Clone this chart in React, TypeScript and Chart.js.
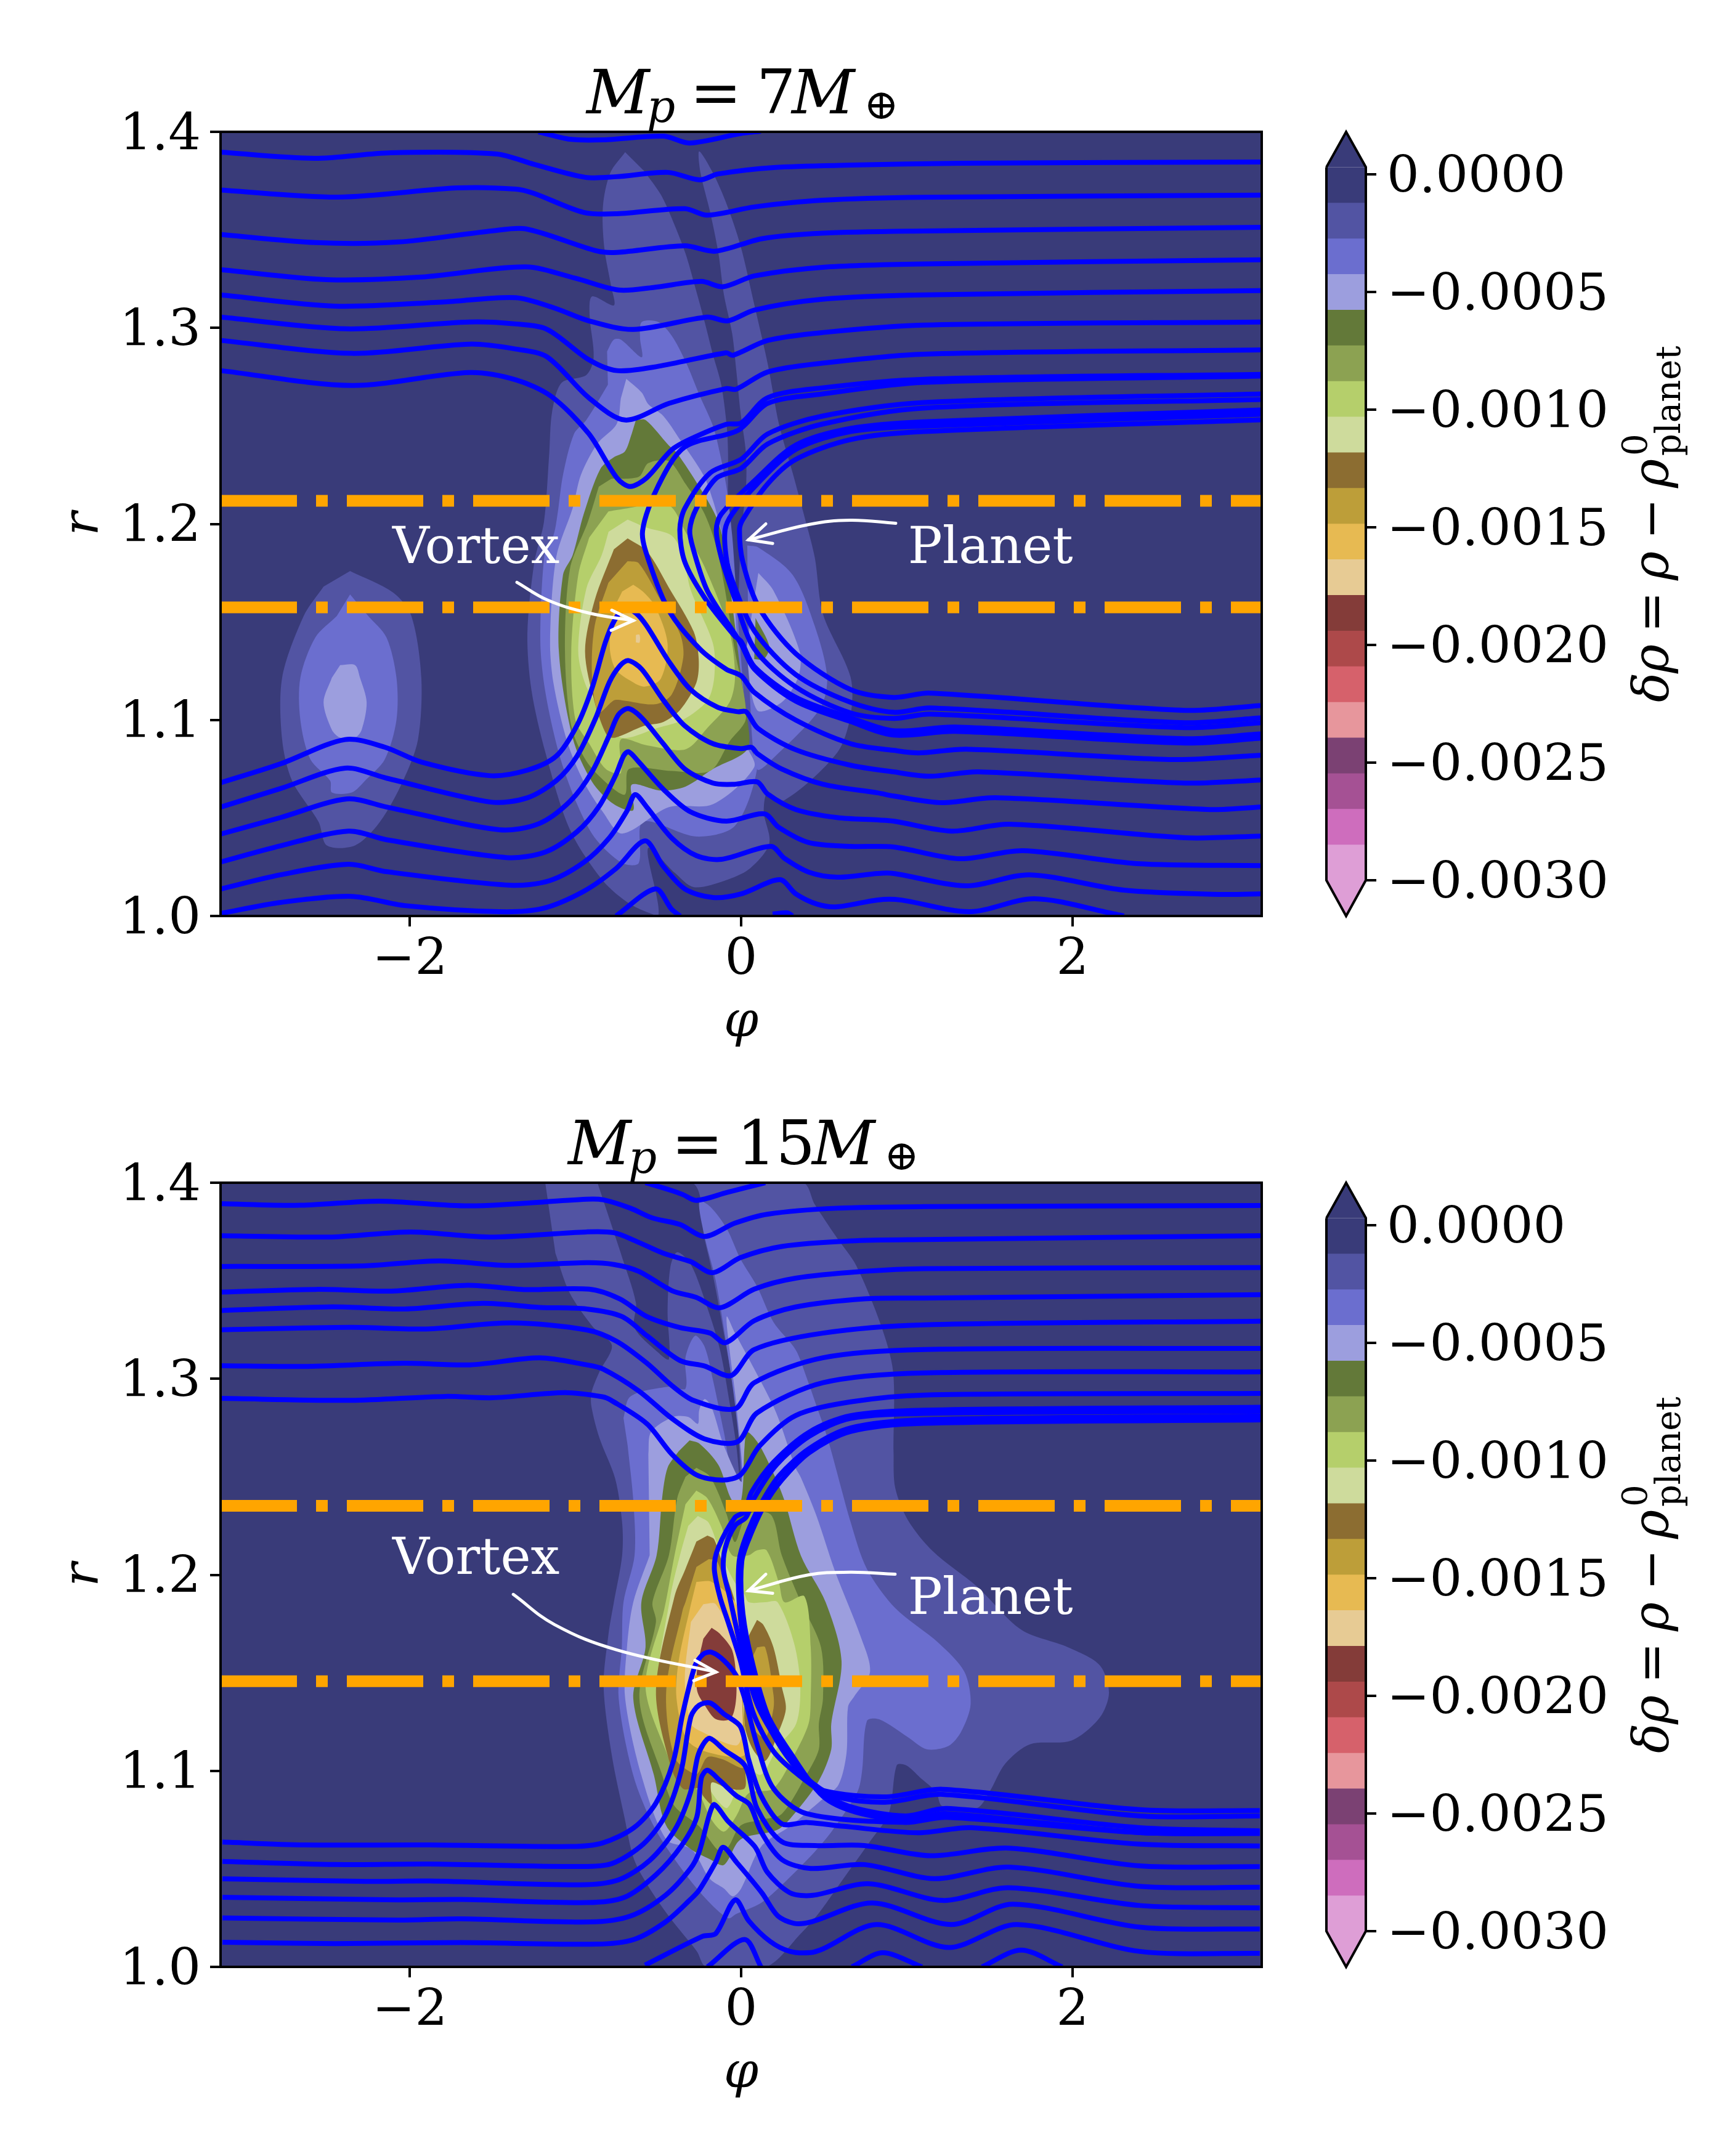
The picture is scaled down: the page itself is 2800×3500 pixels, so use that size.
import { useEffect, useRef } from 'react';
import { Chart, registerables } from 'chart.js';

Chart.register(...registerables);

type P = number[][];
const SERIF = '"DejaVu Serif"';
const TICK_SIZE = 83;

/* ---------- axes ---------- */
const phiTicks = [-2, 0, 2];
const rTicks = [1.0, 1.1, 1.2, 1.3, 1.4];
const cbarTicks = [0, -0.0005, -0.001, -0.0015, -0.002, -0.0025, -0.003];
const cbarEdges = [0.0000317, -0.0001199, -0.0002715, -0.0004231, -0.0005747, -0.0007263, -0.0008779, -0.0010295, -0.0011811, -0.0013327, -0.0014843, -0.0016359, -0.0017875, -0.0019391, -0.0020907, -0.0022423, -0.0023939, -0.0025455, -0.0026971, -0.0028487, -0.0030003];
const levelColors = ['#393b79', '#5254a3', '#6b6ecf', '#9c9ede', '#637939', '#8ca252', '#b5cf6b', '#cedb9c', '#8c6d31', '#bd9e39', '#e7ba52', '#e7cb94', '#843c39', '#ad494a', '#d6616b', '#e7969c', '#7b4173', '#a55194', '#ce6dbd', '#de9ed6'];
const domainBox: P = [[-3.1416, 1.0], [3.1416, 1.0], [3.1416, 1.4], [-3.1416, 1.4]];

/* ---------- top panel: filled contours ---------- */
const topBlobL1: P = [[-2.36, 1.176], [-2.10, 1.165], [-1.99, 1.153], [-1.93, 1.1215], [-1.95, 1.09], [-2.04, 1.069], [-2.18, 1.048], [-2.33, 1.036], [-2.5, 1.036], [-2.55, 1.048], [-2.71, 1.069], [-2.77, 1.09], [-2.77, 1.1215], [-2.64, 1.153], [-2.52, 1.168]];
const topBlobL2: P = [[-2.36, 1.164], [-2.25, 1.153], [-2.14, 1.142], [-2.08, 1.1215], [-2.08, 1.1], [-2.15, 1.08], [-2.27, 1.069], [-2.35, 1.063], [-2.47, 1.063], [-2.48, 1.069], [-2.6, 1.08], [-2.66, 1.1], [-2.66, 1.1215], [-2.57, 1.142], [-2.44, 1.153]];
const topBlobL3: P = [[-2.42, 1.128], [-2.33, 1.128], [-2.3, 1.1215], [-2.26, 1.109], [-2.29, 1.095], [-2.33, 1.091], [-2.42, 1.091], [-2.47, 1.095], [-2.52, 1.109], [-2.47, 1.1215]];
const topMainL1: P = [[-0.7, 1.3896], [-0.79, 1.379], [-0.834, 1.362], [-0.826, 1.341], [-0.784, 1.321], [-0.768, 1.3115], [-0.9, 1.316], [-0.914, 1.306], [-0.89, 1.285], [-0.934, 1.276], [-1.083, 1.272], [-1.141, 1.257], [-1.158, 1.236], [-1.19, 1.201], [-1.249, 1.18], [-1.29, 1.144], [-1.265, 1.115], [-1.18, 1.083], [-1.033, 1.044], [-0.834, 1.018], [-0.668, 1.006], [-0.5, 1.0], [-0.562, 1.0346], [-0.4, 1.022], [-0.285, 1.0147], [-0.1, 1.018], [0.05, 1.024], [0.17, 1.037], [0.137, 1.053], [0.16, 1.063], [0.26, 1.059], [0.577, 1.083], [0.66, 1.102], [0.66, 1.122], [0.494, 1.154], [0.444, 1.183], [0.378, 1.205], [0.311, 1.226], [0.228, 1.251], [0.162, 1.281], [0.079, 1.312], [-0.004, 1.342], [-0.087, 1.363], [-0.17, 1.379], [-0.253, 1.39], [-0.245, 1.379], [-0.187, 1.359], [-0.137, 1.338], [-0.104, 1.317], [-0.054, 1.297], [-0.029, 1.278], [-0.004, 1.257], [0.029, 1.236], [0.029, 1.218], [0, 1.195], [-0.02, 1.15], [-0.02, 1.12], [-0.06, 1.15], [-0.08, 1.19], [-0.079, 1.236], [-0.087, 1.25], [-0.12, 1.271], [-0.17, 1.2863], [-0.22, 1.303], [-0.278, 1.321], [-0.336, 1.338], [-0.419, 1.356], [-0.485, 1.368], [-0.585, 1.38]];
const topMainL2: P = [[-0.809, 1.288], [-0.768, 1.294], [-0.726, 1.294], [-0.6, 1.285], [-0.61, 1.295], [-0.6, 1.303], [-0.5, 1.303], [-0.419, 1.296], [-0.336, 1.283], [-0.253, 1.266], [-0.17, 1.25], [-0.128, 1.236], [-0.087, 1.218], [-0.054, 1.194], [-0.037, 1.174], [-0.004, 1.135], [0.046, 1.089], [0.096, 1.075], [-0.037, 1.046], [-0.27, 1.0405], [-0.593, 1.048], [-0.618, 1.027], [-0.718, 1.027], [-0.884, 1.04], [-1.0, 1.059], [-1.1, 1.083], [-1.183, 1.115], [-1.212, 1.141], [-1.183, 1.187], [-1.133, 1.194], [-1.108, 1.205], [-1.075, 1.225], [-1.008, 1.246], [-0.934, 1.253], [-0.804, 1.271]];
const topRightL2: P = [[0.037, 1.189], [0.104, 1.188], [0.311, 1.174], [0.444, 1.148], [0.519, 1.122], [0.477, 1.106], [0.212, 1.082], [0.096, 1.075], [0.046, 1.122]];
const topMainL3: P = [[-0.693, 1.274], [-0.6, 1.267], [-0.56, 1.261], [-0.469, 1.255], [-0.369, 1.243], [-0.228, 1.225], [-0.17, 1.212], [-0.112, 1.194], [-0.054, 1.174], [-0.02, 1.135], [0.029, 1.088], [0.079, 1.076], [-0.17, 1.057], [-0.436, 1.0555], [-0.718, 1.042], [-0.834, 1.053], [-0.95, 1.0685], [-1.05, 1.089], [-1.133, 1.119], [-1.153, 1.141], [-1.116, 1.183], [-1.017, 1.208], [-0.967, 1.225], [-0.867, 1.241], [-0.751, 1.251], [-0.726, 1.264]];
const topRightL3: P = [[0.104, 1.175], [0.195, 1.166], [0.353, 1.135], [0.345, 1.122], [0.245, 1.109], [0.096, 1.105], [0.029, 1.135]];
const topMainL4: P = [[-0.635, 1.253], [-0.577, 1.253], [-0.436, 1.24], [-0.386, 1.236], [-0.253, 1.219], [-0.153, 1.204], [-0.104, 1.19], [-0.037, 1.148], [0, 1.122], [0.037, 1.101], [0.037, 1.085], [-0.17, 1.075], [-0.336, 1.066], [-0.485, 1.064], [-0.66, 1.067], [-0.651, 1.054], [-0.768, 1.057], [-0.9, 1.0685], [-1.017, 1.091], [-1.1, 1.135], [-1.075, 1.174], [-1.017, 1.184], [-0.95, 1.205], [-0.85, 1.228], [-0.768, 1.234], [-0.701, 1.237], [-0.66, 1.246]];
const topPatchL4: P = [[0.087, 1.152], [0.17, 1.1375], [0.137, 1.131], [0.079, 1.131]];
const topMainL5: P = [[-0.784, 1.223], [-0.618, 1.224], [-0.56, 1.231], [-0.436, 1.232], [-0.336, 1.2205], [-0.22, 1.205], [-0.137, 1.184], [-0.037, 1.135], [0.029, 1.101], [-0.07, 1.089], [-0.187, 1.074], [-0.419, 1.074], [-0.676, 1.075], [-0.701, 1.062], [-0.801, 1.067], [-0.934, 1.079], [-1.025, 1.097], [-1.063, 1.135], [-1.033, 1.177], [-0.925, 1.201], [-0.859, 1.219]];
const topMainL6: P = [[-0.801, 1.2064], [-0.651, 1.2085], [-0.519, 1.211], [-0.419, 1.2085], [-0.336, 1.196], [-0.22, 1.178], [-0.07, 1.145], [-0.037, 1.122], [-0.07, 1.109], [-0.203, 1.096], [-0.336, 1.085], [-0.568, 1.087], [-0.726, 1.09], [-0.726, 1.073], [-0.817, 1.075], [-0.917, 1.088], [-1.0, 1.1], [-1.025, 1.135], [-0.983, 1.174], [-0.917, 1.193]];
const topMainL7: P = [[-0.685, 1.2022], [-0.568, 1.198], [-0.419, 1.194], [-0.353, 1.184], [-0.303, 1.166], [-0.17, 1.139], [-0.162, 1.122], [-0.203, 1.11], [-0.353, 1.1], [-0.502, 1.096], [-0.726, 1.091], [-0.834, 1.104], [-0.934, 1.117], [-0.983, 1.135], [-0.934, 1.167], [-0.842, 1.184], [-0.8, 1.196]];
const topMainL8: P = [[-0.685, 1.1926], [-0.568, 1.186], [-0.436, 1.1675], [-0.286, 1.145], [-0.256, 1.131], [-0.27, 1.119], [-0.369, 1.105], [-0.469, 1.099], [-0.585, 1.097], [-0.759, 1.091], [-0.809, 1.092], [-0.884, 1.109], [-0.942, 1.135], [-0.884, 1.161], [-0.768, 1.187]];
const topMainL9: P = [[-0.685, 1.181], [-0.618, 1.18], [-0.485, 1.161], [-0.369, 1.144], [-0.349, 1.132], [-0.419, 1.113], [-0.519, 1.108], [-0.718, 1.11], [-0.768, 1.11], [-0.859, 1.104], [-0.9, 1.122], [-0.884, 1.148], [-0.801, 1.17]];
const topMainL10: P = [[-0.651, 1.169], [-0.593, 1.1655], [-0.519, 1.158], [-0.444, 1.139], [-0.485, 1.121], [-0.585, 1.117], [-0.668, 1.12], [-0.759, 1.126], [-0.793, 1.1375], [-0.768, 1.156], [-0.718, 1.1655]];
const topMainL11: P = [[-0.635, 1.1434], [-0.613, 1.1434], [-0.613, 1.1395], [-0.635, 1.1395]];

/* ---------- top panel: streamlines ---------- */
const topS0: P = [[-1.223, 1.4], [-1.033, 1.3962], [-0.833, 1.3959], [-0.468, 1.3978], [-0.312, 1.3943], [-0.004, 1.3991], [0.119, 1.4003]];
const topS1: P = [[-3.141, 1.3896], [-2.576, 1.3865], [-2.115, 1.3893], [-1.476, 1.3887], [-1.249, 1.3834], [-0.941, 1.3768], [-0.755, 1.3771], [-0.442, 1.3793], [-0.249, 1.3755], [-0.14, 1.3785], [0.197, 1.3818], [0.658, 1.383], [1.327, 1.384], [3.141, 1.3846]];
const topS2: P = [[-3.14, 1.3703], [-2.43, 1.3667], [-1.71, 1.3714], [-1.36, 1.3708], [-1.25, 1.3686], [-0.95, 1.3589], [-0.75, 1.3582], [-0.34, 1.3608], [-0.205, 1.3575], [0.08, 1.3617], [0.49, 1.3651], [1.1, 1.3666], [3.14, 1.3677]];
const topS3: P = [[-3.14, 1.3476], [-2.57, 1.3435], [-2.07, 1.3438], [-1.5, 1.3495], [-1.3, 1.3505], [-0.87, 1.3392], [-0.75, 1.3385], [-0.34, 1.3419], [-0.156, 1.3391], [0.126, 1.3455], [0.49, 1.3483], [1.1, 1.3494], [3.14, 1.3513]];
const topS4: P = [[-3.14, 1.3297], [-2.5, 1.3246], [-1.93, 1.3259], [-1.3, 1.3311], [-1.0, 1.3253], [-0.74, 1.3193], [-0.53, 1.3206], [-0.24, 1.3237], [-0.11, 1.321], [0.08, 1.3265], [0.49, 1.3309], [1.1, 1.3326], [3.14, 1.3347]];
const topS5: P = [[-3.14, 1.3168], [-2.45, 1.3111], [-1.78, 1.3133], [-1.36, 1.3154], [-1.13, 1.3102], [-0.92, 1.3036], [-0.65, 1.2992], [-0.205, 1.3055], [-0.08, 1.3036], [0.08, 1.3091], [0.49, 1.3146], [1.1, 1.3168], [3.14, 1.319]];
const topS6: P = [[-3.14, 1.3055], [-2.38, 1.2995], [-1.64, 1.303], [-1.36, 1.302], [-1.17, 1.2992], [-0.92, 1.2838], [-0.75, 1.2782], [-0.5, 1.2804], [-0.09, 1.2873], [-0.05, 1.286], [0.16, 1.2936], [0.49, 1.2976], [1.1, 1.3014], [3.14, 1.303]];
const topS7: P = [[-3.14, 1.2936], [-2.35, 1.287], [-1.64, 1.2917], [-1.36, 1.2892], [-1.17, 1.2851], [-0.92, 1.2644], [-0.7, 1.253], [-0.435, 1.2615], [-0.09, 1.269], [-0.03, 1.2687], [0.16, 1.2775], [0.49, 1.282], [1.1, 1.2866], [3.14, 1.2888]];
const topS8: P = [[-3.14, 1.2782], [-2.35, 1.2706], [-1.64, 1.2772], [-1.36, 1.2735], [-1.145, 1.265], [-0.92, 1.2461], [-0.75, 1.2235], [-0.67, 1.2191], [-0.57, 1.2235], [-0.42, 1.2377], [-0.305, 1.2433], [-0.09, 1.2508], [0, 1.2515], [0.16, 1.2644], [0.49, 1.2694], [1.1, 1.2738], [3.14, 1.2763]];
const topF: P = [[-3.14, 1.068], [-2.78, 1.0776], [-2.39, 1.09], [-2.15, 1.0861], [-1.93, 1.0785], [-1.52, 1.0716], [-1.29, 1.0744], [-1.115, 1.0816], [-0.99, 1.0973], [-0.9, 1.1162], [-0.82, 1.1394], [-0.765, 1.1507], [-0.7, 1.157], [-0.635, 1.1545], [-0.57, 1.148], [-0.435, 1.1297], [-0.305, 1.1155], [-0.14, 1.1064], [-0.02, 1.1042], [0.03, 1.1042], [0.1, 1.0958], [0.33, 1.0848], [0.66, 1.0769], [0.92, 1.0735], [1.14, 1.0713], [1.43, 1.0735], [2.68, 1.0678], [3.14, 1.0694]];
const topG: P = [[-3.14, 1.0556], [-2.78, 1.065], [-2.39, 1.0754], [-2.14, 1.0703], [-1.51, 1.0581], [-1.29, 1.0603], [-1.115, 1.0691], [-0.99, 1.0816], [-0.88, 1.1005], [-0.795, 1.1193], [-0.73, 1.1278], [-0.68, 1.1303], [-0.6, 1.1259], [-0.47, 1.1102], [-0.34, 1.097], [-0.17, 1.0879], [0, 1.0854], [0.063, 1.086], [0.097, 1.0829], [0.245, 1.075], [0.494, 1.0672], [0.825, 1.0628], [0.92, 1.0612], [1.21, 1.0578], [1.535, 1.0603], [2.83, 1.0543], [3.14, 1.0556]];
const topH: P = [[-3.14, 1.0418], [-2.78, 1.0502], [-2.38, 1.0597], [-2.14, 1.0556], [-1.46, 1.044], [-1.22, 1.0471], [-1.03, 1.0587], [-0.9, 1.0735], [-0.795, 1.0923], [-0.74, 1.1027], [-0.68, 1.1058], [-0.6, 1.1011], [-0.47, 1.0879], [-0.34, 1.075], [-0.17, 1.0678], [-0.04, 1.0672], [0.097, 1.0684], [0.16, 1.0622], [0.33, 1.0543], [0.58, 1.0502], [0.825, 1.049], [0.92, 1.0484], [1.27, 1.0433], [1.62, 1.0468], [2.68, 1.0399], [3.14, 1.0408]];
const topI: P = [[-3.14, 1.0276], [-2.78, 1.0358], [-2.37, 1.0433], [-2.14, 1.0389], [-1.416, 1.0298], [-1.18, 1.0327], [-0.99, 1.043], [-0.86, 1.0556], [-0.755, 1.0722], [-0.71, 1.0816], [-0.68, 1.0838], [-0.62, 1.0788], [-0.47, 1.0647], [-0.305, 1.0531], [-0.09, 1.0484], [0.14, 1.0521], [0.227, 1.0452], [0.41, 1.0374], [0.66, 1.0355], [0.92, 1.0352], [1.32, 1.0292], [1.7, 1.0333], [2.39, 1.0267], [3.14, 1.0257]];
const topJ: P = [[-3.14, 1.0138], [-2.78, 1.021], [-2.37, 1.0264], [-2.14, 1.0226], [-1.395, 1.0157], [-1.16, 1.0179], [-0.95, 1.0273], [-0.795, 1.0399], [-0.69, 1.0534], [-0.64, 1.0619], [-0.57, 1.0556], [-0.42, 1.0399], [-0.27, 1.0308], [-0.12, 1.0289], [0.18, 1.0355], [0.26, 1.0295], [0.41, 1.0223], [0.58, 1.0198], [0.825, 1.0217], [0.92, 1.0217], [1.36, 1.0154], [1.74, 1.021], [2.31, 1.0132], [2.9, 1.011], [3.14, 1.0113]];
const topK: P = [[-3.14, 1.0013], [-2.78, 1.0069], [-2.35, 1.01], [-2.03, 1.0053], [-1.457, 1.0022], [-1.2, 1.0038], [-0.95, 1.0126], [-0.755, 1.0242], [-0.58, 1.0383], [-0.47, 1.0254], [-0.34, 1.0138], [-0.17, 1.0094], [0, 1.0113], [0.234, 1.0185], [0.33, 1.0113], [0.46, 1.006], [0.58, 1.0047], [0.825, 1.0082], [0.96, 1.0082], [1.38, 1.0022], [1.77, 1.0088], [2.24, 1.0013], [2.31, 1.0]];
const topV7: P = [[-0.755, 1.0], [-0.517, 1.0138], [-0.42, 1.0035], [-0.368, 1.0]];
const topV8: P = [[0.19, 1.001], [0.28, 1.0016], [0.31, 1.0]];
const topE: P = [[3.14, 1.2754], [1.1, 1.2722], [0.49, 1.2663], [0.16, 1.2615], [-0.02, 1.2477], [-0.34, 1.2393], [-0.5, 1.2195], [-0.595, 1.1963], [-0.555, 1.1806], [-0.435, 1.1557], [-0.25, 1.1363], [-0.09, 1.1259], [0, 1.1225], [0.08, 1.114], [0.33, 1.0999], [0.66, 1.0879], [0.92, 1.0845], [1.07, 1.0832], [1.36, 1.0851], [2.61, 1.0798], [3.14, 1.082]];
const topD1: P = [[3.14, 1.2663], [1.1, 1.2619], [0.49, 1.255], [0.16, 1.2459], [0, 1.233], [-0.186, 1.2261], [-0.34, 1.2079], [-0.37, 1.1969], [-0.34, 1.1806], [-0.22, 1.1623], [-0.04, 1.1429], [0, 1.1401], [0.08, 1.1272], [0.33, 1.1115], [0.66, 1.1011], [0.92, 1.0945], [1.29, 1.0964], [2.68, 1.0904], [3.14, 1.0929]];
const topD2: P = [[3.14, 1.2635], [1.1, 1.2591], [0.49, 1.2509], [0.16, 1.2408], [0, 1.2283], [-0.15, 1.2233], [-0.27, 1.2079], [-0.31, 1.1969], [-0.29, 1.1875], [-0.205, 1.1661], [-0.04, 1.1441], [0, 1.1388], [0.08, 1.1259], [0.33, 1.1096], [0.66, 1.0992], [0.92, 1.0923], [1.29, 1.0942], [2.68, 1.0882], [3.14, 1.0907]];
const topP1: P = [[3.14, 1.2581], [1.1, 1.2521], [0.66, 1.2487], [0.33, 1.2402], [0.08, 1.222], [-0.12, 1.205], [-0.15, 1.1969], [-0.12, 1.183], [-0.04, 1.1623], [0.08, 1.1363], [0.33, 1.1168], [0.66, 1.1036], [0.92, 1.1008], [1.14, 1.103], [2.68, 1.0961], [3.14, 1.0986]];
const topP2: P = [[3.14, 1.2559], [1.1, 1.2499], [0.66, 1.2471], [0.33, 1.238], [0.097, 1.2204], [-0.055, 1.205], [-0.097, 1.1969], [-0.09, 1.183], [-0.055, 1.1714], [0.08, 1.1454], [0.33, 1.1231], [0.66, 1.109], [0.92, 1.1039], [1.14, 1.1061], [2.68, 1.0986], [3.14, 1.1011]];
const topP3: P = [[3.14, 1.2531], [1.1, 1.2471], [0.66, 1.243], [0.33, 1.2329], [0.16, 1.2204], [0.01, 1.2022], [-0.01, 1.1969], [0.01, 1.1806], [0.11, 1.157], [0.33, 1.1338], [0.66, 1.1155], [0.92, 1.1115], [1.14, 1.1137], [2.68, 1.1049], [3.14, 1.1074]];

/* ---------- bottom panel: filled contours ---------- */
const botBigL1: P = [[-1.182, 1.4], [0.37, 1.4], [0.444, 1.389], [0.577, 1.372], [0.693, 1.358], [0.843, 1.3275], [0.917, 1.3037], [0.92, 1.262], [0.93, 1.2443], [1.006, 1.228], [1.157, 1.212], [1.423, 1.194], [1.69, 1.172], [1.973, 1.163], [2.163, 1.154], [2.22, 1.14], [2.163, 1.127], [1.992, 1.1154], [1.745, 1.1136], [1.594, 1.1037], [1.499, 1.0893], [1.423, 1.081], [1.214, 1.082], [1.176, 1.0893], [1.081, 1.0965], [0.996, 1.1028], [0.939, 1.1028], [0.892, 1.0785], [0.778, 1.064], [0.626, 1.046], [0.474, 1.028], [0.36, 1.017], [0.15, 1.0], [-0.21, 1.0], [-0.268, 1.008], [-0.42, 1.024], [-0.552, 1.04], [-0.647, 1.055], [-0.704, 1.0763], [-0.78, 1.1077], [-0.83, 1.143], [-0.8, 1.17], [-0.768, 1.186], [-0.718, 1.21], [-0.718, 1.2265], [-0.76, 1.249], [-0.856, 1.27], [-0.903, 1.2856], [-0.903, 1.293], [-0.856, 1.3034], [-0.78, 1.317], [-0.894, 1.3264], [-1.036, 1.344], [-1.121, 1.3641]];
const botSlitDark: P = [[-0.867, 1.4], [-0.295, 1.4], [-0.22, 1.371], [-0.17, 1.3527], [-0.087, 1.315], [-0.037, 1.2896], [-0.012, 1.2658], [-0.004, 1.245], [-0.029, 1.2658], [-0.07, 1.288], [-0.128, 1.315], [-0.203, 1.336], [-0.303, 1.3583], [-0.386, 1.3646], [-0.427, 1.357], [-0.444, 1.3345], [-0.436, 1.31], [-0.502, 1.3135], [-0.643, 1.326], [-0.635, 1.3387], [-0.726, 1.364]];
const botL2: P = [[-0.71, 1.28], [-0.668, 1.291], [-0.436, 1.296], [-0.336, 1.295], [-0.336, 1.3107], [-0.278, 1.3219], [-0.22, 1.3163], [-0.17, 1.2994], [-0.104, 1.2728], [-0.054, 1.2518], [0.004, 1.2476], [-0.037, 1.2868], [-0.087, 1.3163], [-0.153, 1.35], [-0.22, 1.3724], [-0.253, 1.3906], [-0.187, 1.3878], [-0.087, 1.3766], [-0.004, 1.3611], [0.096, 1.3471], [0.195, 1.3289], [0.328, 1.3149], [0.394, 1.3009], [0.46, 1.285], [0.522, 1.2696], [0.664, 1.226], [0.759, 1.203], [0.93, 1.183], [1.195, 1.165], [1.347, 1.1506], [1.385, 1.134], [1.328, 1.12], [1.252, 1.1127], [1.12, 1.111], [1.006, 1.1172], [0.835, 1.1262], [0.759, 1.1254], [0.73, 1.1], [0.702, 1.0893], [0.55, 1.0695], [0.444, 1.0587], [0.245, 1.0417], [0.12, 1.0326], [-0.029, 1.027], [-0.079, 1.0248], [-0.216, 1.035], [-0.377, 1.052], [-0.527, 1.0717], [-0.651, 1.0977], [-0.739, 1.137], [-0.72, 1.163], [-0.71, 1.186], [-0.643, 1.21], [-0.65, 1.237], [-0.685, 1.266]];
const botL3: P = [[-0.56, 1.2616], [-0.544, 1.2728], [-0.411, 1.2805], [-0.319, 1.2805], [-0.261, 1.277], [-0.253, 1.284], [-0.22, 1.2896], [-0.178, 1.2854], [-0.104, 1.2658], [0.004, 1.2476], [-0.029, 1.2868], [-0.07, 1.3149], [-0.087, 1.3317], [-0.037, 1.3233], [0.079, 1.305], [0.212, 1.2826], [0.328, 1.2546], [0.36, 1.2497], [0.455, 1.23], [0.57, 1.201], [0.721, 1.1686], [0.778, 1.1506], [0.683, 1.138], [0.645, 1.1326], [0.636, 1.109], [0.588, 1.0929], [0.493, 1.0857], [0.3, 1.072], [0.12, 1.0613], [0, 1.04], [-0.05, 1.036], [-0.104, 1.04], [-0.19, 1.045], [-0.3, 1.06], [-0.452, 1.065], [-0.602, 1.0977], [-0.7, 1.137], [-0.689, 1.163], [-0.651, 1.186], [-0.552, 1.21]];
const botL4: P = [[-0.311, 1.2686], [-0.253, 1.267], [-0.137, 1.256], [-0.054, 1.2378], [0, 1.2378], [0.021, 1.2658], [0.037, 1.2728], [0.104, 1.267], [0.195, 1.2518], [0.262, 1.2378], [0.361, 1.2097], [0.51, 1.186], [0.606, 1.156], [0.544, 1.124], [0.544, 1.111], [0.469, 1.095], [0.32, 1.078], [0.22, 1.07], [-0.004, 1.065], [-0.104, 1.052], [-0.19, 1.055], [-0.303, 1.06], [-0.452, 1.072], [-0.527, 1.098], [-0.651, 1.137], [-0.577, 1.163], [-0.602, 1.186], [-0.51, 1.21], [-0.477, 1.239], [-0.444, 1.2546], [-0.377, 1.263]];
const botL5: P = [[-0.27, 1.2546], [-0.187, 1.25], [-0.087, 1.2307], [-0.037, 1.2167], [0.037, 1.2307], [0.179, 1.2307], [0.245, 1.21], [0.361, 1.186], [0.482, 1.163], [0.494, 1.137], [0.469, 1.124], [0.469, 1.111], [0.394, 1.098], [0.245, 1.078], [0.12, 1.075], [-0.004, 1.072], [-0.079, 1.061], [-0.129, 1.0587], [-0.253, 1.0717], [-0.402, 1.082], [-0.477, 1.098], [-0.614, 1.137], [-0.514, 1.176], [-0.535, 1.186], [-0.436, 1.21], [-0.386, 1.239], [-0.336, 1.25]];
const botL6: P = [[-0.27, 1.243], [-0.203, 1.239], [-0.12, 1.225], [-0.054, 1.21], [0.046, 1.21], [0.096, 1.2125], [0.154, 1.2125], [0.228, 1.196], [0.262, 1.186], [0.382, 1.189], [0.42, 1.163], [0.42, 1.137], [0.407, 1.124], [0.32, 1.108], [0.195, 1.091], [0.046, 1.0886], [-0.029, 1.077], [-0.104, 1.069], [-0.178, 1.075], [-0.278, 1.092], [-0.39, 1.098], [-0.44, 1.107], [-0.577, 1.143], [-0.465, 1.182], [-0.402, 1.21], [-0.336, 1.236]];
const botL7: P = [[-0.261, 1.23], [-0.195, 1.2265], [-0.12, 1.21], [-0.037, 1.196], [0.02, 1.19], [0.046, 1.186], [0.145, 1.186], [0.22, 1.186], [0.32, 1.165], [0.357, 1.143], [0.332, 1.124], [0.22, 1.112], [0.12, 1.098], [0.02, 1.102], [-0.054, 1.085], [-0.091, 1.081], [-0.178, 1.089], [-0.216, 1.099], [-0.352, 1.1], [-0.377, 1.108], [-0.502, 1.141], [-0.427, 1.189], [-0.369, 1.21], [-0.319, 1.225]];
const botLeftL8: P = [[-0.203, 1.22], [-0.162, 1.218], [-0.104, 1.203], [-0.037, 1.186], [-0.004, 1.163], [0.01, 1.137], [0.026, 1.099], [0.02, 1.091], [-0.079, 1.091], [-0.178, 1.094], [-0.178, 1.083], [-0.228, 1.087], [-0.253, 1.091], [-0.352, 1.091], [-0.427, 1.103], [-0.514, 1.141], [-0.402, 1.189], [-0.336, 1.203], [-0.27, 1.217]];
const botRightL8: P = [[0.096, 1.177], [0.133, 1.1746], [0.195, 1.163], [0.245, 1.143], [0.27, 1.1316], [0.22, 1.1186], [0.145, 1.105], [0.071, 1.111], [0.021, 1.124], [0.033, 1.16], [0.046, 1.169]];
const botLeftL9: P = [[-0.195, 1.208], [-0.145, 1.207], [-0.07, 1.186], [-0.004, 1.163], [0.01, 1.137], [0.021, 1.102], [-0.116, 1.106], [-0.203, 1.107], [-0.253, 1.0997], [-0.278, 1.098], [-0.402, 1.107], [-0.452, 1.141], [-0.353, 1.182], [-0.336, 1.186], [-0.27, 1.204]];
const botRightL9: P = [[0.096, 1.163], [0.145, 1.163], [0.195, 1.139], [0.195, 1.1316], [0.145, 1.117], [0.058, 1.124], [0.058, 1.156]];
const botL10: P = [[-0.27, 1.1964], [-0.178, 1.1964], [-0.029, 1.185], [-0.004, 1.163], [0.01, 1.124], [0.021, 1.108], [-0.203, 1.1095], [-0.328, 1.116], [-0.39, 1.137], [-0.377, 1.156], [-0.303, 1.185]];
const botL11: P = [[-0.228, 1.185], [-0.153, 1.185], [-0.029, 1.163], [0.01, 1.121], [-0.029, 1.113], [-0.24, 1.12], [-0.303, 1.124], [-0.34, 1.147], [-0.303, 1.176]];
const botL12: P = [[-0.178, 1.173], [-0.129, 1.17], [-0.054, 1.1615], [-0.029, 1.146], [-0.034, 1.134], [-0.066, 1.1264], [-0.153, 1.1264], [-0.216, 1.133], [-0.265, 1.1407], [-0.265, 1.1524], [-0.228, 1.1674]];

/* ---------- bottom panel: streamlines ---------- */
const botS0: P = [[-0.577, 1.4], [-0.419, 1.396], [-0.353, 1.394], [-0.27, 1.391], [-0.087, 1.395], [0.145, 1.4]];
const botS1: P = [[-3.14, 1.3893], [-2.658, 1.3885], [-2.184, 1.3906], [-1.634, 1.3882], [-0.932, 1.3916], [-0.834, 1.3913], [-0.668, 1.387], [-0.535, 1.382], [-0.369, 1.3787], [-0.22, 1.3726], [-0.037, 1.3794], [0.162, 1.384], [0.577, 1.387], [1.105, 1.3878], [3.14, 1.3884]];
const botS2: P = [[-3.14, 1.373], [-2.468, 1.3723], [-1.994, 1.3749], [-1.52, 1.3723], [-0.932, 1.3749], [-0.768, 1.3745], [-0.635, 1.3702], [-0.469, 1.364], [-0.303, 1.3597], [-0.173, 1.3541], [-0.004, 1.3618], [0.245, 1.3675], [0.66, 1.3703], [1.105, 1.371], [3.14, 1.373]];
const botS3: P = [[-3.14, 1.3573], [-2.278, 1.3576], [-1.823, 1.3601], [-1.406, 1.3578], [-0.932, 1.3592], [-0.768, 1.3583], [-0.618, 1.3548], [-0.419, 1.345], [-0.27, 1.3415], [-0.129, 1.3362], [0.079, 1.3457], [0.328, 1.3513], [0.743, 1.3548], [1.105, 1.3562], [3.14, 1.3567]];
const botS4: P = [[-3.14, 1.3442], [-2.563, 1.3456], [-2.108, 1.3447], [-1.652, 1.3477], [-1.31, 1.3455], [-0.917, 1.3457], [-0.734, 1.3408], [-0.568, 1.3317], [-0.369, 1.3261], [-0.187, 1.3233], [-0.095, 1.3184], [0.079, 1.3296], [0.328, 1.3366], [0.743, 1.3408], [1.105, 1.3412], [3.14, 1.3429]];
const botS5: P = [[-3.14, 1.3348], [-2.468, 1.3367], [-2.032, 1.3356], [-1.558, 1.3385], [-1.216, 1.3364], [-0.932, 1.3356], [-0.718, 1.3317], [-0.568, 1.3219], [-0.369, 1.3093], [-0.22, 1.3065], [-0.062, 1.3016], [0.079, 1.3149], [0.494, 1.3233], [1.105, 1.3275], [3.14, 1.3294]];
const botS6: P = [[-3.14, 1.325], [-2.354, 1.3262], [-1.899, 1.3254], [-1.387, 1.3285], [-0.932, 1.3249], [-0.751, 1.3191], [-0.568, 1.3079], [-0.419, 1.2966], [-0.286, 1.2889], [-0.037, 1.2847], [0.079, 1.298], [0.494, 1.3107], [1.105, 1.3149], [3.14, 1.3155]];
const botS7: P = [[-3.14, 1.3067], [-2.639, 1.3063], [-2.032, 1.3079], [-1.634, 1.3071], [-1.216, 1.3107], [-0.932, 1.3071], [-0.834, 1.305], [-0.618, 1.2938], [-0.419, 1.2798], [-0.22, 1.2693], [-0.021, 1.2679], [0.096, 1.2826], [0.494, 1.298], [1.105, 1.303], [3.14, 1.3035]];
const botS8: P = [[-3.14, 1.29], [-2.354, 1.289], [-1.785, 1.291], [-1.5, 1.2903], [-1.064, 1.2929], [-0.837, 1.2908], [-0.784, 1.289], [-0.568, 1.277], [-0.419, 1.2616], [-0.27, 1.251], [-0.112, 1.2483], [-0.004, 1.251], [0.112, 1.2658], [0.328, 1.2812], [0.66, 1.2882], [1.105, 1.2917], [3.14, 1.2925]];
const botT1: P = [[3.14, 1.2855], [1.105, 1.284], [0.66, 1.2812], [0.411, 1.2728], [0.195, 1.2574], [0.062, 1.242], [0.021, 1.2322], [-0.037, 1.2293], [-0.137, 1.214], [-0.162, 1.2034], [-0.129, 1.189], [-0.079, 1.176], [-0.004, 1.156], [0.071, 1.13], [0.195, 1.11], [0.345, 1.098], [0.494, 1.09], [0.868, 1.0867], [1.216, 1.0906], [2.406, 1.0802], [3.13, 1.0797]];
const botT2: P = [[3.14, 1.2835], [1.105, 1.2823], [0.66, 1.2798], [0.411, 1.2707], [0.212, 1.256], [0.079, 1.2392], [0.029, 1.2293], [-0.037, 1.2251], [-0.095, 1.214], [-0.107, 1.2027], [-0.07, 1.189], [-0.004, 1.164], [0.096, 1.134], [0.245, 1.112], [0.394, 1.0964], [0.569, 1.087], [0.868, 1.084], [1.216, 1.088], [2.406, 1.077], [3.13, 1.077]];
const botT3: P = [[3.14, 1.281], [1.105, 1.2791], [0.66, 1.2749], [0.411, 1.2644], [0.228, 1.2504], [0.112, 1.235], [0.029, 1.2195], [-0.012, 1.2069], [-0.012, 1.186], [0.021, 1.163], [0.12, 1.1316], [0.27, 1.1082], [0.469, 1.09], [0.668, 1.0815], [0.992, 1.077], [1.24, 1.0808], [2.406, 1.071], [3.13, 1.0694]];
const botT4: P = [[3.14, 1.279], [1.105, 1.2773], [0.66, 1.2731], [0.411, 1.2623], [0.245, 1.2483], [0.137, 1.235], [0.046, 1.2181], [0.004, 1.2069], [0.004, 1.186], [0.046, 1.163], [0.158, 1.129], [0.295, 1.1095], [0.494, 1.087], [0.693, 1.0789], [0.992, 1.075], [1.24, 1.0782], [2.406, 1.0685], [3.13, 1.0685]];
const botA1: P = [[-3.13, 1.0637], [-2.64, 1.0622], [-1.88, 1.0622], [-1.026, 1.0614], [-0.837, 1.0632], [-0.647, 1.071], [-0.514, 1.0836], [-0.41, 1.1046], [-0.353, 1.129], [-0.278, 1.1537], [-0.228, 1.1596], [-0.178, 1.1605], [-0.104, 1.1563], [-0.029, 1.1485], [0.021, 1.137], [0.096, 1.1134], [0.195, 1.091], [0.394, 1.0782], [0.992, 1.0737], [1.24, 1.0763], [2.406, 1.0685], [3.13, 1.068]];
const botA2: P = [[-3.13, 1.0538], [-2.45, 1.0522], [-1.88, 1.0525], [-0.97, 1.0512], [-0.78, 1.0527], [-0.59, 1.0627], [-0.457, 1.0773], [-0.362, 1.1], [-0.303, 1.1277], [-0.253, 1.1335], [-0.186, 1.1346], [-0.104, 1.129], [-0.004, 1.1225], [0.046, 1.1055], [0.12, 1.0873], [0.245, 1.073], [0.394, 1.0737], [0.619, 1.0717], [1.067, 1.0684], [1.39, 1.071], [2.406, 1.0626], [3.13, 1.0617]];
const botA3: P = [[-3.13, 1.0449], [-2.26, 1.0436], [-1.88, 1.0438], [-0.97, 1.0419], [-0.74, 1.0444], [-0.552, 1.0543], [-0.4, 1.07], [-0.306, 1.0889], [-0.263, 1.107], [-0.23, 1.1134], [-0.19, 1.1166], [-0.104, 1.1108], [0.026, 1.1023], [0.096, 1.0808], [0.245, 1.0639], [0.444, 1.0619], [0.743, 1.0619], [1.141, 1.0567], [1.615, 1.0606], [2.406, 1.0515], [3.13, 1.0511]];
const botA4: P = [[-3.13, 1.0355], [-2.07, 1.0342], [-1.69, 1.0344], [-0.93, 1.0328], [-0.704, 1.0355], [-0.514, 1.047], [-0.362, 1.0616], [-0.268, 1.0763], [-0.24, 1.0964], [-0.203, 1.1003], [-0.129, 1.0951], [-0.029, 1.0873], [0.051, 1.0828], [0.12, 1.069], [0.245, 1.0548], [0.42, 1.0502], [0.743, 1.0522], [1.166, 1.045], [1.615, 1.0509], [2.406, 1.0411], [3.13, 1.0406]];
const botA5: P = [[-3.13, 1.025], [-2.07, 1.0239], [-1.69, 1.0245], [-0.912, 1.0229], [-0.666, 1.026], [-0.457, 1.0365], [-0.306, 1.0501], [-0.253, 1.0587], [-0.19, 1.0782], [-0.161, 1.0828], [-0.079, 1.0743], [0.083, 1.0613], [0.158, 1.0483], [0.295, 1.0378], [0.432, 1.0365], [0.768, 1.0424], [1.216, 1.0339], [1.615, 1.0404], [2.406, 1.0313], [3.13, 1.0301]];
const botA6: P = [[-3.13, 1.0126], [-2.45, 1.0119], [-1.69, 1.0124], [-0.875, 1.0116], [-0.647, 1.014], [-0.457, 1.0229], [-0.306, 1.0344], [-0.253, 1.0392], [-0.153, 1.0535], [-0.109, 1.061], [-0.029, 1.0535], [0.125, 1.0378], [0.22, 1.0261], [0.32, 1.0222], [0.42, 1.0229], [0.793, 1.0326], [1.266, 1.0216], [1.64, 1.032], [2.406, 1.0203], [3.13, 1.0193]];
const botA7: P = [[-0.58, 1.0009], [-0.233, 1.0156], [-0.153, 1.017], [-0.036, 1.0342], [0.046, 1.0235], [0.175, 1.013], [0.295, 1.0079], [0.42, 1.0073], [0.494, 1.0092], [0.818, 1.0216], [1.254, 1.0099], [1.665, 1.0216], [2.406, 1.0079], [3.13, 1.0069]];
const botA8: P = [[-0.203, 1.0], [0.021, 1.014], [0.12, 1.0]];
const botA9: P = [[0.668, 1.0], [0.855, 1.0072], [1.092, 1.0]];
const botA10: P = [[1.453, 1.0], [1.69, 1.0086], [1.938, 1.0]];

/* ---------- reference lines and annotations ---------- */
const topOrange = [1.2118, 1.1574];
const botOrange = [1.2352, 1.1457];
const topPlanetArrow: P = [[0.933, 1.2003], [0.658, 1.2019], [0.409, 1.1997], [0.045, 1.1919]];
const topPlanetHead: P = [[0.149, 1.2], [0.045, 1.1919], [0.19, 1.19]];
const topVortexArrow: P = [[-1.353, 1.1702], [-1.167, 1.1611], [-0.918, 1.1545], [-0.651, 1.1507]];
const topVortexHead: P = [[-0.781, 1.156], [-0.651, 1.1507], [-0.784, 1.1457]];
const botPlanetArrow: P = [[0.929, 1.2003], [0.658, 1.2013], [0.409, 1.2], [0.045, 1.1919]];
const botPlanetHead: P = [[0.149, 1.2003], [0.045, 1.1919], [0.19, 1.1906]];
const botVortexArrow: P = [[-1.375, 1.19], [-1.126, 1.1746], [-0.751, 1.1617], [-0.152, 1.1504]];
const botVortexHead: P = [[-0.279, 1.1564], [-0.152, 1.1504], [-0.286, 1.146]];

const topLayers: { level: number; polys: P[] }[] = [
  { level: 0, polys: [domainBox] },
  { level: 1, polys: [topBlobL1, topMainL1] },
  { level: 2, polys: [topBlobL2, topMainL2, topRightL2] },
  { level: 3, polys: [topBlobL3, topMainL3, topRightL3] },
  { level: 4, polys: [topMainL4, topPatchL4] },
  { level: 5, polys: [topMainL5] },
  { level: 6, polys: [topMainL6] },
  { level: 7, polys: [topMainL7] },
  { level: 8, polys: [topMainL8] },
  { level: 9, polys: [topMainL9] },
  { level: 10, polys: [topMainL10] },
  { level: 11, polys: [topMainL11] },
];
const botLayers: { level: number; polys: P[] }[] = [
  { level: 0, polys: [domainBox] },
  { level: 1, polys: [botBigL1] },
  { level: 0, polys: [botSlitDark] },
  { level: 2, polys: [botL2] },
  { level: 3, polys: [botL3] },
  { level: 4, polys: [botL4] },
  { level: 5, polys: [botL5] },
  { level: 6, polys: [botL6] },
  { level: 7, polys: [botL7] },
  { level: 8, polys: [botLeftL8, botRightL8] },
  { level: 9, polys: [botLeftL9, botRightL9] },
  { level: 10, polys: [botL10] },
  { level: 11, polys: [botL11] },
  { level: 12, polys: [botL12] },
];
const topStreams = [topS0, topS1, topS2, topS3, topS4, topS5, topS6, topS7, topS8, topF, topG, topH, topI, topJ, topK, topV7, topV8, topE, topD1, topD2, topP1, topP2, topP3];
const botStreams = [botS0, botS1, botS2, botS3, botS4, botS5, botS6, botS7, botS8, botT1, botT2, botT3, botT4, botA1, botA2, botA3, botA4, botA5, botA6, botA7, botA8, botA9, botA10];

/* ---------- text pieces ---------- */
type Seg = { t: string; x: number; y: number; size: number; italic?: boolean };
const topTitle: Seg[] = [
  { t: 'M', x: 952, y: 184, size: 100, italic: true },
  { t: 'p', x: 1050, y: 198, size: 72, italic: true },
  { t: '=', x: 1120, y: 184, size: 100 },
  { t: '7', x: 1228, y: 184, size: 100 },
  { t: 'M', x: 1285, y: 184, size: 100, italic: true },
  { t: '⊕', x: 1402, y: 193, size: 68 },
];
const botTitle: Seg[] = [
  { t: 'M', x: 922, y: 184, size: 100, italic: true },
  { t: 'p', x: 1020, y: 198, size: 72, italic: true },
  { t: '=', x: 1090, y: 184, size: 100 },
  { t: '15', x: 1196, y: 184, size: 100 },
  { t: 'M', x: 1318, y: 184, size: 100, italic: true },
  { t: '⊕', x: 1435, y: 193, size: 68 },
];
const cbarLabel: Seg[] = [
  { t: 'δ', x: 1140, y: 607, size: 80, italic: true },
  { t: 'ρ', x: 1093, y: 607, size: 80, italic: true },
  { t: '=', x: 1027, y: 607, size: 80 },
  { t: 'ρ', x: 942, y: 607, size: 80, italic: true },
  { t: '−', x: 876, y: 607, size: 80 },
  { t: 'ρ', x: 792, y: 607, size: 80, italic: true },
  { t: '0', x: 740, y: 573, size: 56 },
  { t: 'planet', x: 740, y: 627, size: 56 },
];

const fontOf = (s: Seg) => `${s.italic ? 'italic ' : ''}${s.size}px ${SERIF}`;

const figurePlugin = {
  id: 'figurePlugin',
  beforeDraw(chart: any) {
    // digits are centred by their glyph box in the reference, not by the em box
    const s = chart.scales.y;
    s.getLabelItems().forEach((it: any) => {
      if (!it.shifted) {
        it.textOffset += 7;
        it.shifted = true;
      }
    });
  },
  beforeDatasetDraw(chart: any, args: any) {
    const ds = chart.data.datasets[args.index];
    if (!ds.polyFill) return;
    const { ctx, chartArea: a } = chart;
    const el = args.meta.dataset;
    el.updateControlPoints(a);
    ctx.save();
    if (!ds.noClip) {
      ctx.beginPath();
      ctx.rect(a.left, a.top, a.right - a.left, a.bottom - a.top);
      ctx.clip();
    }
    ctx.beginPath();
    el.path(ctx);
    ctx.closePath();
    ctx.fillStyle = ds.polyFill;
    ctx.fill();
    ctx.restore();
  },
  afterDatasetsDraw(chart: any) {
    const opt = chart.options.plugins.figurePlugin || {};
    const { ctx, chartArea: a, scales } = chart;
    ctx.save();
    ctx.fillStyle = '#fff';
    ctx.textBaseline = 'alphabetic';
    ctx.textAlign = 'left';
    (opt.labels || []).forEach((l: any) => {
      ctx.font = `${TICK_SIZE}px ${SERIF}`;
      ctx.fillText(l.t, scales.x.getPixelForValue(l.phi), scales.y.getPixelForValue(l.r));
    });
    ctx.fillStyle = '#000';
    (opt.title || []).forEach((s: Seg) => {
      ctx.font = fontOf(s);
      ctx.fillText(s.t, s.x, s.y);
    });
    (opt.rotated || []).forEach((s: Seg) => {
      ctx.save();
      ctx.translate(s.y, s.x);
      ctx.rotate(-Math.PI / 2);
      ctx.font = fontOf(s);
      ctx.fillText(s.t, 0, 0);
      ctx.restore();
    });
    if (opt.box) {
      ctx.lineWidth = 4;
      ctx.strokeStyle = '#000';
      ctx.strokeRect(a.left, a.top, a.right - a.left, a.bottom - a.top);
    }
    ctx.restore();
  },
};

const toXY = (p: P) => p.map(([x, y]) => ({ x, y }));

function mainConfig(layers: { level: number; polys: P[] }[], streams: P[], orange: number[], arrows: P[], heads: P[], labels: any[], title: Seg[]) {
  const datasets: any[] = [];
  let order = 100000;
  layers.forEach((l) => l.polys.forEach((p) => {
    datasets.push({ data: toXY(p), showLine: true, borderWidth: 0, pointRadius: 0, tension: 0.3, polyFill: levelColors[l.level], order: order-- });
  }));
  streams.forEach((s) => datasets.push({ data: toXY(s), showLine: true, borderColor: '#0000ff', borderWidth: 8, pointRadius: 0, tension: 0.3, fill: false, order: order-- }));
  orange.forEach((r) => datasets.push({ data: [{ x: -3.1416, y: r }, { x: 3.1416, y: r }], showLine: true, borderColor: '#ffa500', borderWidth: 19, borderDash: [124, 31, 19, 31], pointRadius: 0, tension: 0, order: order-- }));
  arrows.forEach((s) => datasets.push({ data: toXY(s), showLine: true, borderColor: '#fff', borderWidth: 5, borderCapStyle: 'round', pointRadius: 0, tension: 0.4, order: order-- }));
  heads.forEach((s) => datasets.push({ data: toXY(s), showLine: true, borderColor: '#fff', borderWidth: 5, borderCapStyle: 'round', borderJoinStyle: 'miter', pointRadius: 0, tension: 0, order: order-- }));
  return {
    type: 'scatter',
    data: { datasets },
    plugins: [figurePlugin],
    options: {
      animation: false,
      responsive: false,
      devicePixelRatio: 1,
      events: [],
      layout: { padding: { left: 0, top: 214, right: 52, bottom: 3 } },
      plugins: { legend: { display: false }, tooltip: { enabled: false }, figurePlugin: { labels, title, box: true } },
      scales: {
        x: {
          type: 'linear',
          min: -3.1416,
          max: 3.1416,
          afterBuildTicks: (a: any) => { a.ticks = phiTicks.map((value) => ({ value })); },
          afterFit: (a: any) => { a.height = 260; },
          border: { display: false },
          grid: { drawOnChartArea: false, color: '#000', lineWidth: 4, tickLength: 17 },
          ticks: { color: '#000', padding: 7, maxRotation: 0, autoSkip: false, font: { family: SERIF, size: TICK_SIZE }, callback: (v: number) => (v < 0 ? `−${-v}` : `${v}`) },
          title: { display: true, text: 'φ', color: '#000', font: { family: SERIF, size: 80, style: 'italic' }, padding: { top: 0, bottom: 38 } },
        },
        y: {
          type: 'linear',
          min: 1.0,
          max: 1.4,
          afterBuildTicks: (a: any) => { a.ticks = rTicks.map((value) => ({ value })); },
          afterFit: (a: any) => { a.width = 358; },
          border: { display: false },
          grid: { drawOnChartArea: false, color: '#000', lineWidth: 4, tickLength: 17 },
          ticks: { color: '#000', padding: 15, autoSkip: false, font: { family: SERIF, size: TICK_SIZE }, callback: (v: number) => v.toFixed(1) },
          title: { display: true, text: 'r', color: '#000', font: { family: SERIF, size: 80, style: 'italic' }, padding: { top: 90, bottom: 0 } },
        },
      },
    },
  };
}

function cbarConfig() {
  const datasets: any[] = [];
  let order = 1000;
  const tipTop = 0.000182;
  const tipBot = -0.003152;
  datasets.push({ data: [{ x: 0, y: cbarEdges[0] }, { x: 0.5, y: tipTop }, { x: 1, y: cbarEdges[0] }], showLine: true, borderWidth: 0, pointRadius: 0, polyFill: levelColors[0], noClip: true, order: order-- });
  levelColors.forEach((c, i) => {
    const lo = cbarEdges[Math.min(i + 2, 20)];
    const hi = cbarEdges[i];
    datasets.push({ data: [{ x: 0, y: hi }, { x: 1, y: hi }, { x: 1, y: lo }, { x: 0, y: lo }], showLine: true, borderWidth: 0, pointRadius: 0, polyFill: c, noClip: true, order: order-- });
  });
  datasets.push({ data: [{ x: 0, y: cbarEdges[20] }, { x: 0.5, y: tipBot }, { x: 1, y: cbarEdges[20] }], showLine: true, borderWidth: 0, pointRadius: 0, polyFill: levelColors[19], noClip: true, order: order-- });
  datasets.push({
    data: [{ x: 0, y: cbarEdges[0] }, { x: 0.5, y: tipTop }, { x: 1, y: cbarEdges[0] }, { x: 1, y: cbarEdges[20] }, { x: 0.5, y: tipBot }, { x: 0, y: cbarEdges[20] }, { x: 0, y: cbarEdges[0] }],
    showLine: true, borderColor: '#000', borderWidth: 4, borderJoinStyle: 'miter', pointRadius: 0, tension: 0, clip: false, order: order--,
  });
  return {
    type: 'scatter',
    data: { datasets },
    plugins: [figurePlugin],
    options: {
      animation: false,
      responsive: false,
      devicePixelRatio: 1,
      events: [],
      layout: { padding: { left: 53, top: 214, right: 0, bottom: 263 } },
      plugins: { legend: { display: false }, tooltip: { enabled: false }, figurePlugin: { rotated: cbarLabel } },
      scales: {
        x: { type: 'linear', min: 0, max: 1, display: false },
        y: {
          type: 'linear',
          position: 'right',
          min: tipBot,
          max: tipTop,
          afterBuildTicks: (a: any) => { a.ticks = cbarTicks.map((value) => ({ value })); },
          afterFit: (a: any) => { a.width = 583; },
          border: { display: false },
          grid: { drawOnChartArea: false, color: '#000', lineWidth: 4, tickLength: 17 },
          ticks: { color: '#000', padding: 17, autoSkip: false, crossAlign: 'near', font: { family: SERIF, size: TICK_SIZE }, callback: (v: number) => (v === 0 ? '0.0000' : `−${(-v).toFixed(4)}`) },
        },
      },
    },
  };
}

function Panel({ left, top, width, height, build }: { left: number; top: number; width: number; height: number; build: () => any }) {
  const ref = useRef<HTMLCanvasElement | null>(null);
  useEffect(() => {
    const chart = new Chart(ref.current as HTMLCanvasElement, build());
    return () => chart.destroy();
  }, []);
  return <canvas ref={ref} width={width} height={height} style={{ position: 'absolute', left, top, width, height, display: 'block' }} />;
}

export default function App() {
  return (
    <div style={{ position: 'absolute', left: 0, top: 0, width: 2800, height: 3500, background: '#fff', overflow: 'hidden' }}>
      <Panel left={0} top={0} width={2100} height={1750} build={() => mainConfig(topLayers, topStreams, topOrange, [topPlanetArrow, topVortexArrow], [topPlanetHead, topVortexHead], [{ t: 'Vortex', phi: -2.104, r: 1.1802 }, { t: 'Planet', phi: 1.007, r: 1.1802 }], topTitle)} />
      <Panel left={2100} top={0} width={700} height={1750} build={cbarConfig} />
      <Panel left={0} top={1706} width={2100} height={1750} build={() => mainConfig(botLayers, botStreams, botOrange, [botPlanetArrow, botVortexArrow], [botPlanetHead, botVortexHead], [{ t: 'Vortex', phi: -2.104, r: 1.2006 }, { t: 'Planet', phi: 1.007, r: 1.1802 }], botTitle)} />
      <Panel left={2100} top={1706} width={700} height={1750} build={cbarConfig} />
    </div>
  );
}
